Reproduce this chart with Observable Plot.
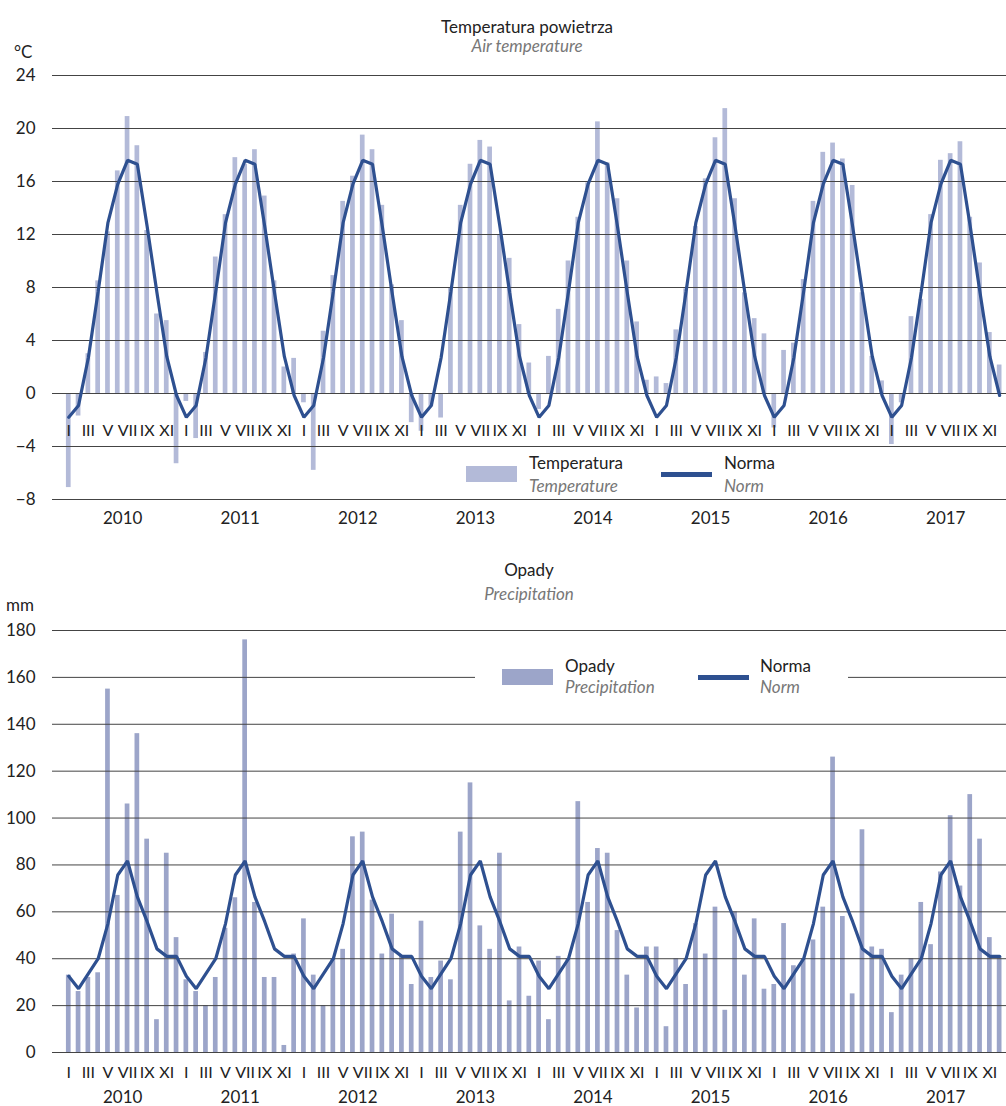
<!DOCTYPE html>
<html>
<head>
<meta charset="utf-8">
<script src="https://cdn.jsdelivr.net/npm/d3@7"></script>
<script src="https://cdn.jsdelivr.net/npm/@observablehq/plot@0.6"></script>
<style>
  body { margin: 0; background: #fff; }
  #page { position: relative; width: 1006px; height: 1106px; overflow: hidden; font-family: Lato, "Open Sans", sans-serif; color: #222; }
  .chart { position: absolute; left: 0; }
  .t { position: absolute; white-space: nowrap; line-height: 1; font-size: 17px; }
  .c { transform: translateX(-50%); }
  .en { font-style: italic; color: #777; }
  .sw { position: absolute; }
  .lgbox { position: absolute; background: #fff; }
</style>
</head>
<body>
<div id="page"></div>
<script>
// ---- data ----
const years = [2010, 2011, 2012, 2013, 2014, 2015, 2016, 2017];
const monthLabels = ["I", "II", "III", "IV", "V", "VI", "VII", "VIII", "IX", "X", "XI", "XII"];

const temperature = [
  -7.1, -1.7, 3.0, 8.5, 12.2, 16.8, 20.9, 18.7, 12.3, 6.0, 5.5, -5.3,
  -0.6, -3.4, 3.1, 10.3, 13.5, 17.8, 17.3, 18.4, 14.9, 8.5, 2.0, 2.65,
  -0.7, -5.8, 4.7, 8.9, 14.5, 16.4, 19.5, 18.4, 14.2, 8.2, 5.5, -2.2,
  -2.85, -1.0, -1.85, 8.0, 14.2, 17.3, 19.1, 18.6, 12.0, 10.2, 5.2, 2.3,
  -1.2, 2.8, 6.35, 10.0, 13.3, 15.9, 20.5, 17.4, 14.7, 10.0, 5.4, 1.0,
  1.25, 0.75, 4.8, 7.9, 12.6, 16.2, 19.3, 21.5, 14.7, 7.6, 5.65, 4.5,
  -2.6, 3.25, 3.8, 8.6, 14.5, 18.2, 18.9, 17.7, 15.7, 7.6, 2.8, 0.95,
  -3.85, -0.7, 5.8, 7.1, 13.5, 17.6, 18.1, 19.0, 13.3, 9.85, 4.6, 2.15
];
const temperatureNorm = [-1.8, -0.9, 2.7, 7.7, 12.9, 15.8, 17.6, 17.3, 12.6, 7.6, 2.8, -0.15];

const precipitation = [
  33, 26, 32, 34, 155, 67, 106, 136, 91, 14, 85, 49,
  31, 26, 20, 32, 53, 66, 176, 64, 32, 32, 3, 42,
  57, 33, 20, 40, 44, 92, 94, 65, 42, 59, 41, 29,
  56, 32, 39, 31, 94, 115, 54, 44, 85, 22, 45, 24,
  39, 14, 41, 40, 107, 64, 87, 85, 52, 33, 19, 45,
  45, 11, 40, 29, 55, 42, 62, 18, 60, 33, 57, 27,
  29, 55, 37, 40, 48, 62, 126, 58, 25, 95, 45, 44,
  17, 33, 40, 64, 46, 77, 101, 71, 110, 91, 49, 41
];
const precipitationNorm = [32.5, 27.2, 33.6, 40, 55, 75.7, 81.7, 66.4, 55.8, 44.2, 41, 41];

const tempTicks = [-8, -4, 0, 4, 8, 12, 16, 20, 24];
const precTicks = [0, 20, 40, 60, 80, 100, 120, 140, 160, 180];

// ---- derived rows ----
const rows = years.flatMap((yr, yi) => monthLabels.map((m, mi) => {
  const i = yi * 12 + mi;
  return { i, year: yr, month: m, temp: temperature[i], tempNorm: temperatureNorm[mi],
           prec: precipitation[i], precNorm: precipitationNorm[mi] };
}));
const monthTickValues = rows.filter(d => d.i % 2 === 0).map(d => d.i);
const yearTickValues = years.map((y, yi) => yi * 12 + 5.5);
const monthFmt = i => monthLabels[i % 12];
const yearFmt = v => String(years[Math.floor(v / 12)]);

const FONT = 'Lato, "Open Sans", sans-serif';
const xOpts = { type: "linear", domain: [-1.66, 95.7], label: null };
const barInset = 2.55;
const lineColor = "#2e5090";

const page = document.getElementById("page");

function place(el, top) {
  el.classList.add("chart");
  el.style.top = top + "px";
  page.appendChild(el);
}

// ---- Temperature chart ----
const tempPlot = Plot.plot({
  width: 1006, height: 540,
  marginTop: 75, marginBottom: 41, marginLeft: 52, marginRight: 0,
  x: xOpts,
  y: { domain: [-8, 24], label: null },
  style: { fontFamily: FONT, fontSize: "17px", color: "#222", background: "transparent", overflow: "visible" },
  marks: [
    Plot.rectY(rows, { x1: d => d.i - 0.5, x2: d => d.i + 0.5, y1: 0, y2: "temp", fill: "#b3bad8", insetLeft: barInset, insetRight: barInset }),
    Plot.gridY(tempTicks, { stroke: "#444", strokeOpacity: 1, strokeWidth: 1 }),
    Plot.lineY(rows, { x: "i", y: "tempNorm", stroke: lineColor, strokeWidth: 3.2, strokeLinejoin: "miter" }),
    Plot.axisY(tempTicks, { tickSize: 0, tickPadding: 17, fontSize: 17, label: null }),
    Plot.axisX(monthTickValues, { anchor: "bottom", tickSize: 0, tickPadding: 0, dy: -75, tickFormat: monthFmt, fontSize: 16, label: null }),
    Plot.axisX(yearTickValues, { anchor: "bottom", tickSize: 0, tickPadding: 12, tickFormat: yearFmt, fontSize: 17, label: null })
  ]
});
place(tempPlot, 0);

// ---- Precipitation chart ----
const precPlot = Plot.plot({
  width: 1006, height: 566,
  marginTop: 90, marginBottom: 54, marginLeft: 52, marginRight: 0,
  x: xOpts,
  y: { domain: [0, 180], label: null },
  style: { fontFamily: FONT, fontSize: "17px", color: "#222", background: "transparent", overflow: "visible" },
  marks: [
    Plot.rectY(rows, { x1: d => d.i - 0.5, x2: d => d.i + 0.5, y1: 0, y2: "prec", fill: "#9ca5c9", insetLeft: barInset, insetRight: barInset }),
    Plot.gridY(precTicks, { stroke: "#444", strokeOpacity: 1, strokeWidth: 1 }),
    Plot.lineY(rows, { x: "i", y: "precNorm", stroke: lineColor, strokeWidth: 3.2, strokeLinejoin: "miter" }),
    Plot.axisY(precTicks, { tickSize: 0, tickPadding: 17, fontSize: 17, label: null }),
    Plot.axisX(monthTickValues, { anchor: "bottom", tickSize: 0, tickPadding: 14, tickFormat: monthFmt, fontSize: 16, label: null }),
    Plot.axisX(yearTickValues, { anchor: "bottom", tickSize: 0, tickPadding: 38, tickFormat: yearFmt, fontSize: 17, label: null })
  ]
});
place(precPlot, 540);

// ---- texts & legends (HTML) ----
function txt(s, left, top, cls) {
  const d = document.createElement("div");
  d.className = "t " + (cls || "");
  d.textContent = s;
  d.style.left = left + "px";
  d.style.top = top + "px";
  page.appendChild(d);
  return d;
}
function box(cls, left, top, w, h, bg) {
  const d = document.createElement("div");
  d.className = cls;
  Object.assign(d.style, { left: left + "px", top: top + "px", width: w + "px", height: h + "px" });
  if (bg) d.style.background = bg;
  page.appendChild(d);
  return d;
}

// titles
txt("Temperatura powietrza", 527, 17.6, "c");
txt("Air temperature", 527, 36.6, "c en");
txt("°C", 14, 42.6);
txt("Opady", 529, 561, "c");
txt("Precipitation", 529, 585, "c en");
txt("mm", 6, 595.6);

// temperature legend
box("sw", 466, 466, 51, 16, "#b3bad8");
txt("Temperatura", 529, 454);
txt("Temperature", 529, 476.6, "en");
box("sw", 661, 472, 51, 4.5, lineColor);
txt("Norma", 724, 454);
txt("Norm", 724, 476.6, "en");

// precipitation legend (white box breaks the gridline)
box("lgbox", 475, 652, 373, 46);
box("sw", 502, 669, 51, 15.5, "#9ca5c9");
txt("Opady", 565, 657);
txt("Precipitation", 565, 678, "en");
box("sw", 698, 675, 51, 4.5, lineColor);
txt("Norma", 760, 657);
txt("Norm", 760, 678, "en");
</script>
</body>
</html>
